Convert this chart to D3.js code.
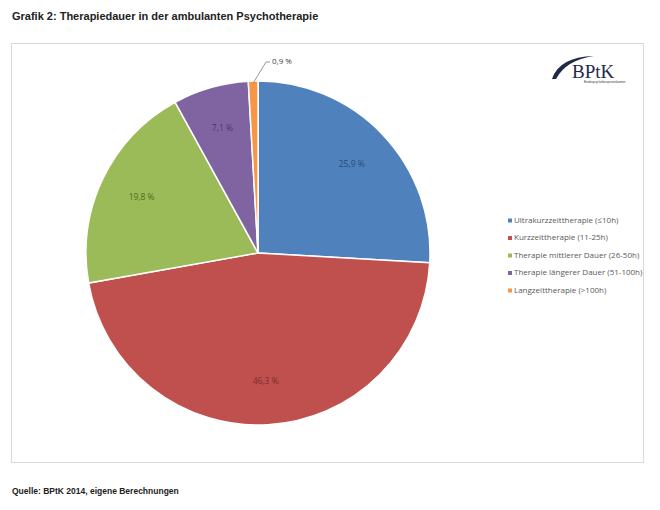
<!DOCTYPE html>
<html><head><meta charset="utf-8">
<script src="https://cdn.jsdelivr.net/npm/d3@7/dist/d3.min.js"></script>
<style>body{margin:0;background:#fff}svg{display:block}</style>
</head><body>
<svg id="c" width="660" height="510"></svg>
<script>
const categories = ["Ultrakurzzeittherapie (≤10h)","Kurzzeittherapie (11-25h)","Therapie mittlerer Dauer (26-50h)","Therapie längerer Dauer (51-100h)","Langzeittherapie (>100h)"];
const values = [25.9, 46.3, 19.8, 7.1, 0.9];
const valueLabels = ["25,9 %","46,3 %","19,8 %","7,1 %","0,9 %"];
const colors = ["#4F81BD","#C0504D","#9BBB59","#8064A2","#F79646"];

const svg = d3.select("#c");
svg.append("text").attr("x",12).attr("y",20).attr("font-family","Liberation Sans, Arial").attr("font-weight","bold").attr("font-size",11).attr("fill","#222").text("Grafik 2: Therapiedauer in der ambulanten Psychotherapie");
svg.append("text").attr("x",12).attr("y",494).attr("font-family","Liberation Sans, Arial").attr("font-weight","bold").attr("font-size",8.5).attr("fill","#222").text("Quelle: BPtK 2014, eigene Berechnungen");

svg.append("rect").attr("x",11.5).attr("y",43.5).attr("width",632).attr("height",419).attr("fill","#fff").attr("stroke","#d9d9d9").attr("stroke-width",1);

const cx = 258, cy = 253, r = 172;
const pie = d3.pie().sort(null).value(d=>d)(values);
const arc = d3.arc().innerRadius(0).outerRadius(r);
const g = svg.append("g").attr("transform",`translate(${cx},${cy})`);
g.selectAll("path").data(pie).join("path").attr("d",arc).attr("fill",(d,i)=>colors[i]).attr("stroke","#fff").attr("stroke-width",1.5);

const labelArc = d3.arc().innerRadius(r*0.75).outerRadius(r*0.75);
const textColors = ["#2a4a73","#7a2e2c","#4f6a22","#4a3566"];
pie.forEach((d,i)=>{
  if(i<4){
    const [x,y] = labelArc.centroid(d);
    g.append("text").attr("x",x).attr("y",y).attr("text-anchor","middle").attr("dominant-baseline","middle")
      .attr("font-family","Open Sans, sans-serif").attr("font-size",8.5).attr("fill",textColors[i]).text(valueLabels[i]);
  }
});
{
  const d = pie[4];
  const a = (d.startAngle+d.endAngle)/2;
  const p0 = [Math.sin(a)*(r-2), -Math.cos(a)*(r-2)];
  const p1 = [8, -r-19];
  const p2 = [12, -r-19];
  g.append("polyline").attr("points",[p0,p1,p2].map(p=>p.join(",")).join(" ")).attr("fill","none").attr("stroke","#7f7f7f").attr("stroke-width",0.8);
  g.append("text").attr("x",p2[0]+2).attr("y",p2[1]).attr("dominant-baseline","middle").attr("font-family","Open Sans, sans-serif").attr("font-size",8).attr("fill","#404040").text(valueLabels[4]);
}

const lg = svg.append("g").attr("transform","translate(508,220.5)");
categories.forEach((c,i)=>{
  const row = lg.append("g").attr("transform",`translate(0,${i*17.5})`);
  row.append("rect").attr("x",0).attr("y",-2).attr("width",4).attr("height",4).attr("fill",colors[i]);
  row.append("text").attr("x",6).attr("y",0).attr("dominant-baseline","middle").attr("font-family","Open Sans, sans-serif").attr("font-size",8).attr("fill","#595959").text(c);
});

const logo = svg.append("g");
logo.append("path").attr("d","M552,79 Q559,57 594,56 Q566,60 556,79 Z").attr("fill","#1f2a4a");
logo.append("text").attr("x",572).attr("y",78).attr("font-family","Liberation Serif, serif").attr("font-size",19).attr("fill","#1f2a4a").text("BPtK");
logo.append("text").attr("x",584).attr("y",82.5).attr("font-family","Liberation Sans, sans-serif").attr("font-size",2.7).attr("fill","#333").text("Bundespsychotherapeutenkammer");
</script>
</body></html>
